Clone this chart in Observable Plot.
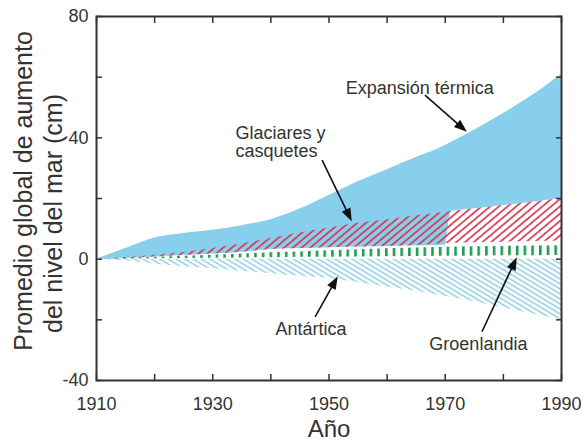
<!DOCTYPE html>
<html>
<head>
<meta charset="utf-8">
<script src="https://cdn.jsdelivr.net/npm/d3@7"></script>
<script src="https://cdn.jsdelivr.net/npm/@observablehq/plot@0.6"></script>
<style>
  html, body { margin: 0; padding: 0; background: #fff; }
  #chart { width: 582px; height: 442px; }
</style>
</head>
<body>
<div id="chart"></div>
<script>
// ---- data (cm of global sea-level rise) ----
const years = [1910, 1915, 1920, 1925, 1930, 1935, 1940, 1945, 1950, 1955, 1960, 1965, 1970, 1975, 1980, 1985, 1990];
const glacierTop  = [0, 0.5, 1.3, 2.2, 3.5, 5, 6.8, 8.6, 10.3, 11.8, 13, 14.3, 15.5, 16.6, 17.7, 18.8, 20];
const glacierBase = [0, 0.2, 0.7, 1.2, 1.7, 2.3, 3.2, 3.5, 3.8, 4, 4.2, 4.4, 5.2, 5.4, 5.6, 5.8, 6];
const greenlandTop = [0, 0.3, 0.6, 1, 1.3, 1.7, 2.1, 2.4, 2.8, 3.1, 3.4, 3.7, 3.9, 4.1, 4.2, 4.3, 4.4];
const greenlandLow = [0, 0, 0.1, 0.2, 0.3, 0.4, 0.5, 0.6, 0.6, 0.7, 0.8, 0.9, 1, 1, 1.1, 1.1, 1.2];
const antarctica = [0, -0.5, -1.7, -2.4, -3.2, -4, -4.8, -5.6, -6.3, -7.8, -9.2, -10.6, -12.2, -14, -16, -18, -20];

const thermalYears = [1910, 1915, 1920, 1925, 1930, 1935, 1940, 1945, 1950, 1955, 1960, 1965, 1970, 1971, 1975, 1980, 1985, 1990];
const thermalBase  = [0, 0.2, 0.7, 1.2, 1.7, 2.3, 3.2, 3.5, 3.8, 4, 4.2, 4.4, 4.6, 15.7, 16.6, 17.7, 18.8, 20];
const thermalTop   = [0, 3.5, 7, 8.5, 9.5, 11, 13, 16.5, 21, 25.5, 29.5, 33.5, 37.5, 38.5, 42.5, 48, 54, 61];

const xTicks = [1910, 1920, 1930, 1940, 1950, 1960, 1970, 1980, 1990];
const xTickLabels = [1910, 1930, 1950, 1970, 1990];
const yTicks = [-40, -20, 0, 20, 40, 60, 80];
const yTickLabels = [-40, 0, 40, 80];

const labelTexts = ["Expansión térmica", "Glaciares y\ncasquetes", "Antártica", "Groenlandia"];
const labelX = [1965.6, 1933.9, 1946.9, 1975.7];
const labelY = [56.5, 38.7, -23.2, -28.1];

const arrowX1 = [1966.6, 1948.9, 1947.7, 1976.4];
const arrowY1 = [53.9, 32.5, -19.2, -24.1];
const arrowX2 = [1973.8, 1954.0, 1951.6, 1982.4];
const arrowY2 = [41.8, 12.3, -5.8, 0.5];

const yTitle = ["Promedio global de aumento", "del nivel del mar (cm)"];
const xTitle = "Año";

// ---- tables ----
const rows = years.map((year, i) => ({
  year, glTop: glacierTop[i], glBase: glacierBase[i],
  gTop: greenlandTop[i], gLow: greenlandLow[i], ant: antarctica[i]
}));
const thermalRows = thermalYears.map((year, i) => ({year, base: thermalBase[i], top: thermalTop[i]}));
const labels = labelTexts.map((text, i) => ({text, x: labelX[i], y: labelY[i]}));
const centeredLabels = labels.filter((d, i) => i !== 1);
const leftLabels = labels.filter((d, i) => i === 1);
const arrows = arrowX1.map((x1, i) => ({x1, y1: arrowY1[i], x2: arrowX2[i], y2: arrowY2[i]}));

// ---- pattern definitions ----
function defsMark() {
  const g = d3.create("svg:g");
  const defs = g.append("defs");
  const red = defs.append("pattern").attr("id", "hatchRed").attr("patternUnits", "userSpaceOnUse")
    .attr("width", 12).attr("height", 5.6).attr("patternTransform", "rotate(-40)");
  red.append("line").attr("x1", 0).attr("x2", 12).attr("y1", 2.8).attr("y2", 2.8)
    .attr("stroke", "#d9384e").attr("stroke-opacity", 0.9).attr("stroke-width", 1.9);
  const ant = defs.append("pattern").attr("id", "hatchAnt").attr("patternUnits", "userSpaceOnUse")
    .attr("width", 12).attr("height", 4.3).attr("patternTransform", "rotate(31)");
  ant.append("line").attr("x1", 0).attr("x2", 12).attr("y1", 2.15).attr("y2", 2.15)
    .attr("stroke", "#8fcde0").attr("stroke-width", 1.5);
  const gr = defs.append("pattern").attr("id", "barsGreen").attr("patternUnits", "userSpaceOnUse")
    .attr("width", 7.7).attr("height", 10);
  gr.append("rect").attr("x", 0).attr("y", 0).attr("width", 2.6).attr("height", 10).attr("fill", "#1f9b52");
  return g.node();
}

// ---- filled-head arrows drawn through the plot's scales ----
function arrowMark(index, scales) {
  const g = d3.create("svg:g");
  for (const a of arrows) {
    const x1 = scales.x(a.x1), y1 = scales.y(a.y1), x2 = scales.x(a.x2), y2 = scales.y(a.y2);
    const dx = x2 - x1, dy = y2 - y1, L = Math.hypot(dx, dy), ux = dx / L, uy = dy / L;
    const hl = 13, hw = 4.8;
    const bx = x2 - ux * hl, by = y2 - uy * hl;
    g.append("line").attr("x1", x1).attr("y1", y1).attr("x2", bx + ux * 2).attr("y2", by + uy * 2)
      .attr("stroke", "#111").attr("stroke-width", 1.6);
    g.append("path")
      .attr("d", `M${x2},${y2}L${bx - uy * hw},${by + ux * hw}L${bx + uy * hw},${by - ux * hw}Z`)
      .attr("fill", "#111");
  }
  return g.node();
}

const chart = Plot.plot({
  width: 582,
  height: 442,
  marginLeft: 96,
  marginRight: 21,
  marginTop: 16,
  marginBottom: 62,
  style: {fontFamily: "'Liberation Sans', Arial, sans-serif", fontSize: "18px", color: "#333", background: "#fff"},
  x: {domain: [1910, 1990], label: null},
  y: {domain: [-40, 80], label: null},
  marks: [
    defsMark,
    Plot.areaY(thermalRows, {x: "year", y1: "base", y2: "top", fill: "#88cfee", curve: "monotone-x"}),
    Plot.areaY(rows, {x: "year", y1: "ant", y2: 0, fill: "url(#hatchAnt)"}),
    Plot.areaY(rows, {x: "year", y1: "gLow", y2: "gTop", fill: "url(#barsGreen)"}),
    Plot.areaY(rows, {x: "year", y1: "glBase", y2: "glTop", fill: "url(#hatchRed)"}),
    Plot.frame({stroke: "#333", strokeWidth: 2}),
    Plot.axisX(xTicks, {anchor: "bottom", tickSize: 6, dy: -6, fill: "none", stroke: "#333", strokeWidth: 1.5}),
    Plot.axisX(xTicks, {anchor: "top", tickSize: 6, dy: 6, fill: "none", stroke: "#333", strokeWidth: 1.5}),
    Plot.axisY(yTicks, {anchor: "left", tickSize: 6, dx: 6, fill: "none", stroke: "#333", strokeWidth: 1.5}),
    Plot.axisY(yTicks, {anchor: "right", tickSize: 6, dx: -6, fill: "none", stroke: "#333", strokeWidth: 1.5}),
    Plot.axisX(xTickLabels, {anchor: "bottom", tickSize: 0, tickPadding: 17, fontSize: 18, fill: "#333", tickFormat: d => String(d)}),
    Plot.axisY(yTickLabels, {anchor: "left", tickSize: 0, tickPadding: 8, fontSize: 18, fill: "#333", tickFormat: d => String(d)}),
    Plot.text(centeredLabels, {x: "x", y: "y", text: "text", textAnchor: "middle", fontSize: 18, fill: "#333"}),
    Plot.text(leftLabels, {x: "x", y: "y", text: "text", textAnchor: "start", fontSize: 18, fill: "#333", lineHeight: 1}),
    arrowMark,
    Plot.text([yTitle[0]], {text: d => d, frameAnchor: "left", textAnchor: "middle", rotate: -90, lineAnchor: "bottom", dx: -65, dy: -7.5, fontSize: 25, fill: "#333"}),
    Plot.text([yTitle[1]], {text: d => d, frameAnchor: "left", textAnchor: "middle", rotate: -90, lineAnchor: "bottom", dx: -35, dy: 15, fontSize: 25, fill: "#333"}),
    Plot.text([xTitle], {text: d => d, frameAnchor: "bottom", textAnchor: "middle", lineAnchor: "bottom", dy: 56, fontSize: 24, fill: "#333"})
  ]
});
document.getElementById("chart").appendChild(chart);
</script>
</body>
</html>
